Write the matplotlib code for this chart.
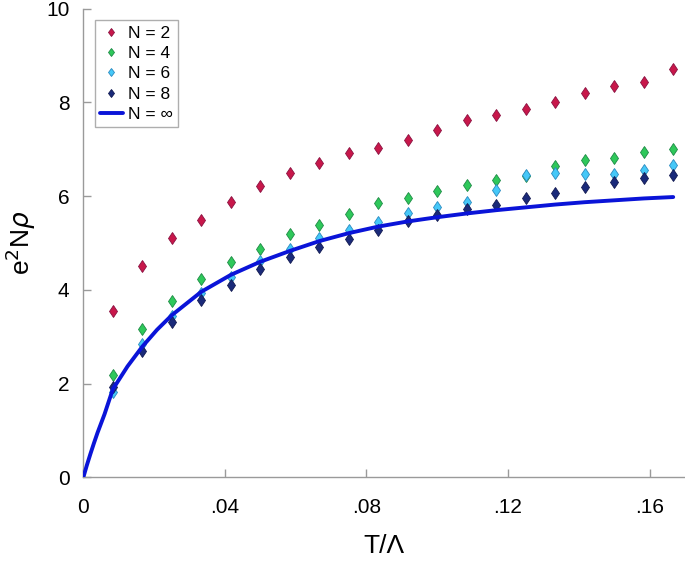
import matplotlib
matplotlib.use("Agg")
import matplotlib.pyplot as plt
from matplotlib.ticker import FixedLocator, FixedFormatter

plt.rcParams['font.family'] = ['Liberation Sans', 'DejaVu Sans']

# Data
T = [k / 120 for k in range(1, 21)]
n2 = [3.54, 4.51, 5.10, 5.49, 5.88, 6.21, 6.50, 6.70, 6.92, 7.03,
      7.20, 7.41, 7.62, 7.72, 7.85, 8.01, 8.20, 8.35, 8.44, 8.72]
n4 = [2.19, 3.17, 3.77, 4.23, 4.59, 4.87, 5.20, 5.38, 5.62, 5.85,
      5.97, 6.10, 6.24, 6.34, 6.43, 6.64, 6.76, 6.81, 6.95, 7.00]
n6 = [1.82, 2.84, 3.44, 3.93, 4.28, 4.61, 4.87, 5.10, 5.28, 5.45,
      5.63, 5.77, 5.88, 6.14, 6.44, 6.50, 6.48, 6.47, 6.56, 6.66]
n8 = [1.92, 2.70, 3.31, 3.78, 4.11, 4.44, 4.70, 4.91, 5.09, 5.28,
      5.46, 5.60, 5.73, 5.82, 5.97, 6.07, 6.19, 6.30, 6.39, 6.45]

T_inf = [0.0, 0.001, 0.002, 0.003, 0.004, 0.006, 1/120, 1.5/120, 2/120, 2.5/120,
         3/120, 4/120, 5/120, 6/120, 7/120, 8/120, 9/120, 10/120, 11/120,
         12/120, 13/120, 14/120, 15/120, 16/120, 17/120, 18/120, 19/120, 20/120]
n_inf = [0.0, 0.26, 0.50, 0.73, 0.95, 1.35, 1.88, 2.37, 2.79, 3.15,
         3.46, 3.96, 4.32, 4.60, 4.83, 5.04, 5.21, 5.35, 5.46,
         5.55, 5.63, 5.70, 5.76, 5.82, 5.87, 5.91, 5.95, 5.98]

xticks = [0, 0.04, 0.08, 0.12, 0.16]
xticklabels = ['0', '.04', '.08', '.12', '.16']
yticks = [0, 2, 4, 6, 8, 10]

fig = plt.figure(figsize=(6.85, 5.64), dpi=100)
ax = fig.add_axes([0.1216, 0.1534, 0.8784, 0.8315])

series = [
    (n2, 'N = 2', '#c8174a', '#8a1040'),
    (n4, 'N = 4', '#2ec85a', '#1d8a45'),
    (n6, 'N = 6', '#45c8f8', '#2a8ac0'),
    (n8, 'N = 8', '#1a2a7a', '#101850'),
]
for vals, lab, fc, ec in series:
    ax.plot(T, vals, linestyle='none', marker='d', markersize=6.5,
            markerfacecolor=fc, markeredgecolor=ec, markeredgewidth=0.6,
            label=lab, clip_on=False, zorder=3)

ax.plot(T_inf, n_inf, color='#0a14d8', linewidth=2.8, label='N = ∞',
        solid_capstyle='round', zorder=4)

ax.set_xlim(0, 0.17)
ax.set_ylim(0, 10)

for s in ['top', 'right']:
    ax.spines[s].set_visible(False)
for s in ['left', 'bottom']:
    ax.spines[s].set_color('#9a9a9a')
    ax.spines[s].set_linewidth(1.0)

ax.xaxis.set_major_locator(FixedLocator(xticks))
ax.xaxis.set_major_formatter(FixedFormatter(xticklabels))
ax.yaxis.set_major_locator(FixedLocator(yticks))
ax.tick_params(direction='in', length=6, width=1.0, color='#9a9a9a',
               labelsize=15)
ax.tick_params(axis='x', pad=15)
ax.tick_params(axis='y', pad=10)

ax.set_xlabel('T/Λ', fontsize=19, labelpad=12)
ax.set_ylabel(r'e$^2$N$\rho$', fontsize=19, labelpad=6)

leg = ax.legend(loc='upper left', bbox_to_anchor=(0.019, 0.975), borderaxespad=0,
                fontsize=12.5, frameon=True, fancybox=False, edgecolor='#9a9a9a',
                handlelength=1.3, handletextpad=0.3, labelspacing=0.3,
                borderpad=0.3, markerscale=0.7)
leg.get_frame().set_linewidth(1.0)

fig.savefig('out.png', dpi=100)
